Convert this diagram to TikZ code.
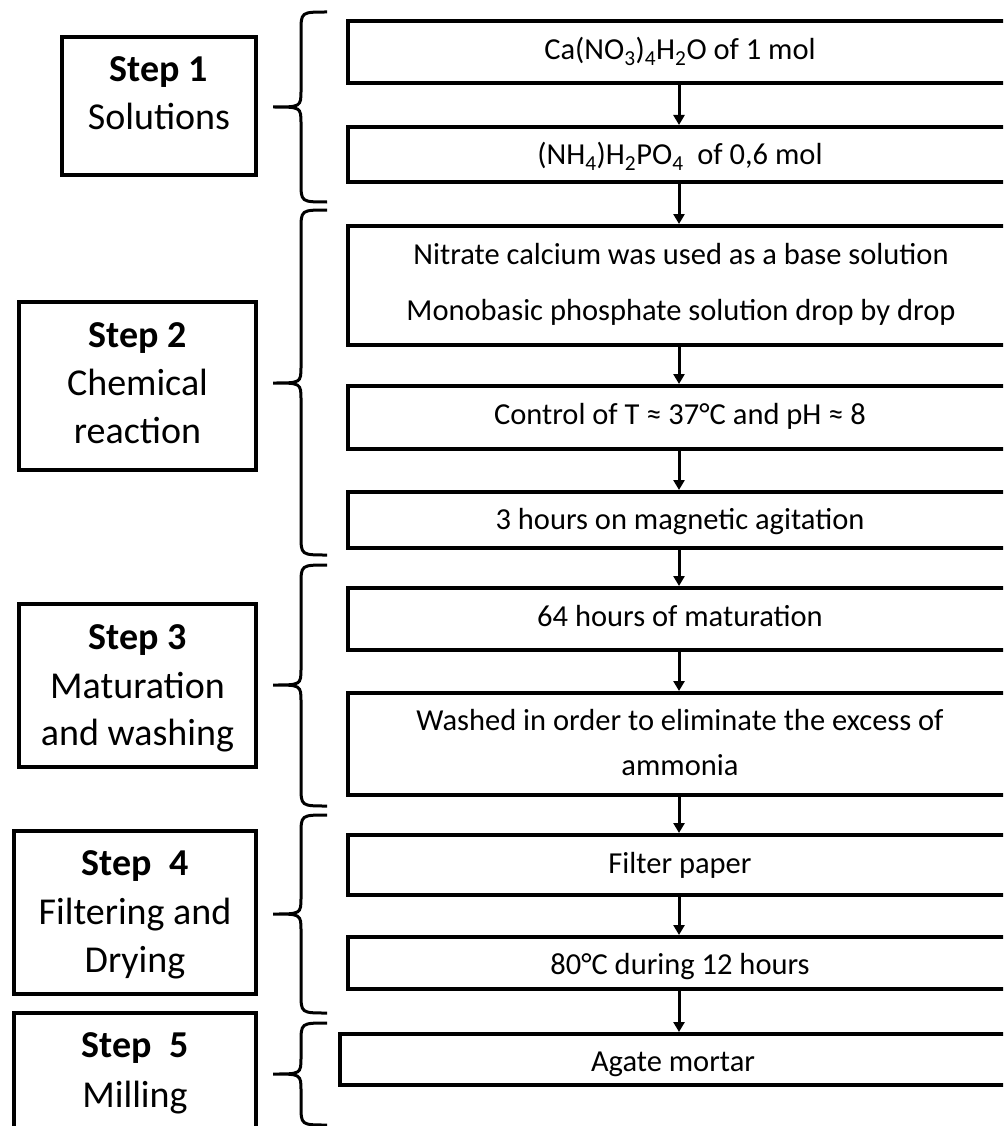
\documentclass[tikz,border=0pt]{standalone}
\usepackage{fontspec}
\setmainfont{Carlito}
\usetikzlibrary{arrows.meta}
\newcommand\mybrace[3]{%
  \draw[brc] (327,#1) .. controls (301,#1) .. (301,{#1+20}) -- (301,{#2-17})
    .. controls (301,#2) .. (273,#2) .. controls (301,#2) .. (301,{#2+17})
    -- (301,{#3-20}) .. controls (301,#3) .. (327,#3);}
\begin{document}
\begin{tikzpicture}[x=1pt,y=-1pt]
\tikzset{
  rbox/.style={draw, line width=4pt, minimum width=662pt, inner sep=0pt},
  lbox/.style={draw, line width=4pt, inner sep=0pt},
  rtxt/.style={anchor=base, font=\fontsize{30.5}{36}\selectfont, inner sep=0pt},
  ltxt/.style={anchor=base, font=\fontsize{38}{46}\selectfont, inner sep=0pt},
  flow/.style={line width=3pt, -{Triangle[width=11pt,length=10pt]}},
  brc/.style={line width=3pt}
}
\useasboundingbox (0,0) rectangle (1003,1126);
\clip (0,0) rectangle (1003,1126);
\fill[white] (0,0) rectangle (1003,1126);

% right boxes
\node[rbox, minimum height=62pt]  (r1) at (679,52) {};
\node[rbox, minimum height=55pt]  (r2) at (679,154.5) {};
\node[rbox, minimum height=119pt] (r3) at (679,285.5) {};
\node[rbox, minimum height=63pt]  (r4) at (679,417.5) {};
\node[rbox, minimum height=56pt]  (r5) at (679,520) {};
\node[rbox, minimum height=62pt]  (r6) at (679,619) {};
\node[rbox, minimum height=102pt] (r7) at (679,744) {};
\node[rbox, minimum height=60pt]  (r8) at (679,865) {};
\node[rbox, minimum height=52pt]  (r9) at (679,963) {};
\node[rbox, minimum width=670pt, minimum height=51pt] (r10) at (675,1059.5) {};

% right texts
\node[rtxt] (t1) at (680,60) {Ca(NO\textsubscript{3})\textsubscript{4}H\textsubscript{2}O of 1 mol};
\node[rtxt] (t2) at (680,165) {(NH\textsubscript{4})H\textsubscript{2}PO\textsubscript{4}\ \ of 0,6 mol};
\node[rtxt] (t3a) at (681,264) {Nitrate calcium was used as a base solution};
\node[rtxt] (t3b) at (681,320) {Monobasic phosphate solution drop by drop};
\node[rtxt] (t4) at (680,424) {Control of T ≈ 37°C and pH ≈ 8};
\node[rtxt] (t5) at (680,529) {3 hours on magnetic agitation};
\node[rtxt] (t6) at (680,626) {64 hours of maturation};
\node[rtxt] (t7a) at (680,730) {Washed in order to eliminate the excess of};
\node[rtxt] (t7b) at (680,775) {ammonia};
\node[rtxt] (t8) at (680,873) {Filter paper};
\node[rtxt] (t9) at (680,974) {80°C during 12 hours};
\node[rtxt] (t10) at (673,1071) {Agate mortar};

% arrows
\draw[flow] (r1.south) -- (r2.north);
\draw[flow] (r2.south) -- (r3.north);
\draw[flow] (r3.south) -- (r4.north);
\draw[flow] (r4.south) -- (r5.north);
\draw[flow] (r5.south) -- (r6.north);
\draw[flow] (r6.south) -- (r7.north);
\draw[flow] (r7.south) -- (r8.north);
\draw[flow] (r8.south) -- (r9.north);
\draw[flow] (r9.south) -- (r9.south |- r10.north);

% left boxes
\node[lbox, minimum width=194pt, minimum height=138pt] (s1) at (159,106) {};
\node[lbox, minimum width=237pt, minimum height=168pt] (s2) at (137.5,386) {};
\node[lbox, minimum width=237pt, minimum height=163pt] (s3) at (137.5,685.5) {};
\node[lbox, minimum width=242pt, minimum height=163pt] (s4) at (135,912.5) {};
\node[lbox, minimum width=242pt, minimum height=127pt] (s5) at (135,1076.5) {};

% left texts
\node[ltxt] (s1a) at (159,82) {\bfseries Step 1};
\node[ltxt] (s1b) at (159,130) {Solutions};
\node[ltxt] (s2a) at (137.5,347) {\bfseries Step 2};
\node[ltxt] (s2b) at (137.5,395) {Chemical};
\node[ltxt] (s2c) at (137.5,443) {reaction};
\node[ltxt] (s3a) at (137.5,649) {\bfseries Step 3};
\node[ltxt] (s3b) at (137.5,698) {Maturation};
\node[ltxt] (s3c) at (137.5,745) {and washing};
\node[ltxt] (s4a) at (135,875) {\bfseries Step\ \ 4};
\node[ltxt] (s4b) at (135,924) {Filtering and};
\node[ltxt] (s4c) at (135,972) {Drying};
\node[ltxt] (s5a) at (135,1057) {\bfseries Step\ \ 5};
\node[ltxt] (s5b) at (135,1107) {Milling};

% braces
\mybrace{12}{107}{202}
\mybrace{210}{383}{555}
\mybrace{565}{685}{806}
\mybrace{815}{914}{1013}
\mybrace{1023}{1074}{1125}
\end{tikzpicture}
\end{document}
